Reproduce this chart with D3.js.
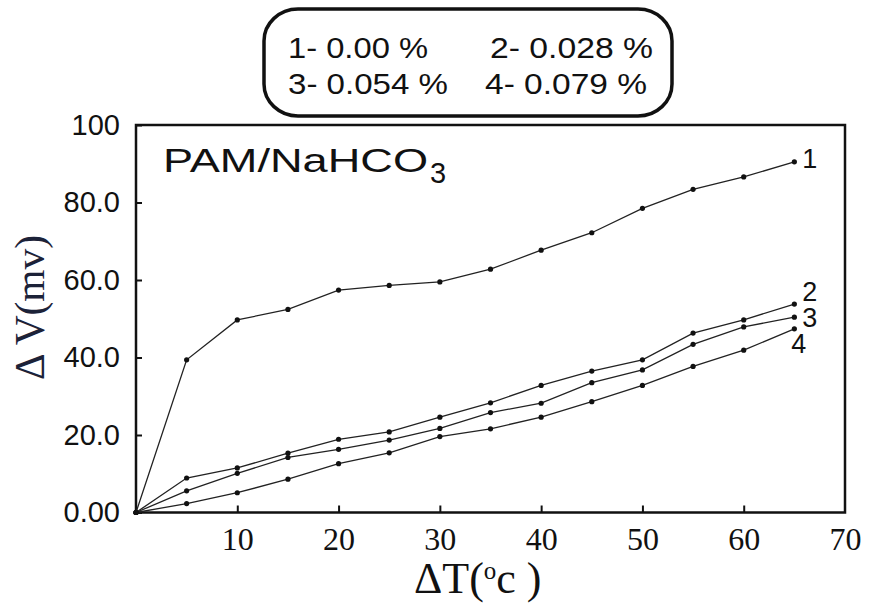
<!DOCTYPE html>
<html>
<head>
<meta charset="utf-8">
<script src="https://cdn.jsdelivr.net/npm/d3@7"></script>
<style>
  body { margin: 0; background: #fff; }
  svg { display: block; }
</style>
</head>
<body>
<div id="chart"></div>
<script>
/////////////////////////////////////////////////////
///////////////////// Data //////////////////////////
/////////////////////////////////////////////////////

// Temperature difference (x axis)
const deltaT = [0, 5, 10, 15, 20, 25, 30, 35, 40, 45, 50, 55, 60, 65];

// Voltage difference (mV) for each concentration
const curve1 = [0, 39.4, 49.7, 52.4, 57.4, 58.6, 59.5, 62.8, 67.7, 72.2, 78.5, 83.4, 86.6, 90.5];
const curve2 = [0, 8.9, 11.5, 15.3, 18.9, 20.8, 24.6, 28.3, 32.8, 36.5, 39.4, 46.3, 49.7, 53.8];
const curve3 = [0, 5.6, 10.1, 14.2, 16.3, 18.7, 21.7, 25.8, 28.2, 33.5, 36.8, 43.4, 47.9, 50.4];
const curve4 = [0, 2.3, 5.1, 8.6, 12.6, 15.4, 19.6, 21.6, 24.6, 28.6, 32.8, 37.7, 41.9, 47.4];

const curveNames  = ["1", "2", "3", "4"];
const legendTexts = ["1- 0.00 %", "2- 0.028 %", "3- 0.054 %", "4- 0.079 %"];

const xTicks      = [10, 20, 30, 40, 50, 60, 70];
const yTicks      = [0, 20, 40, 60, 80, 100];
const yTickLabels = ["0.00", "20.0", "40.0", "60.0", "80.0", "100"];

/////////////////////////////////////////////////////
///////////////////// Layout ////////////////////////
/////////////////////////////////////////////////////

const width  = 869;
const height = 603;

const plot = { left: 136, right: 845, top: 125, bottom: 512.5 };

const sans  = "'Liberation Sans', Arial, sans-serif";
const serif = "'Liberation Serif', 'Times New Roman', serif";
const ink   = "#111";

const svg = d3.select("#chart")
  .append("svg")
  .attr("width", width)
  .attr("height", height);

const x = d3.scaleLinear().domain([0, 70]).range([plot.left, plot.right]);
const y = d3.scaleLinear().domain([0, 100]).range([plot.bottom, plot.top]);

/////////////////////////////////////////////////////
///////////////////// Axes //////////////////////////
/////////////////////////////////////////////////////

// y axis: ticks point into the plot
const yAxis = svg.append("g")
  .attr("transform", `translate(${plot.left},0)`)
  .call(d3.axisLeft(y)
    .tickValues(yTicks)
    .tickFormat((d, i) => yTickLabels[i])
    .tickSizeInner(-6)
    .tickSizeOuter(0)
    .tickPadding(16));

yAxis.select(".domain").remove();
yAxis.selectAll(".tick line").attr("stroke", ink).attr("stroke-width", 2);
yAxis.selectAll(".tick text")
  .attr("fill", ink)
  .style("font-family", sans)
  .style("font-size", "29px");

// x axis
const xAxis = svg.append("g")
  .attr("transform", `translate(0,${plot.bottom})`)
  .call(d3.axisBottom(x)
    .tickValues(xTicks)
    .tickFormat(d3.format("d"))
    .tickSizeInner(-7)
    .tickSizeOuter(0)
    .tickPadding(15));

xAxis.select(".domain").remove();
xAxis.selectAll(".tick line").attr("stroke", ink).attr("stroke-width", 2);
xAxis.selectAll(".tick").filter(d => d === 70).select("line").remove();
xAxis.selectAll(".tick text")
  .attr("fill", ink)
  .style("font-family", serif)
  .style("font-size", "32px");

// frame around the plot
svg.append("rect")
  .attr("x", plot.left)
  .attr("y", plot.top)
  .attr("width", plot.right - plot.left)
  .attr("height", plot.bottom - plot.top)
  .attr("fill", "none")
  .attr("stroke", ink)
  .attr("stroke-width", 2.5);

/////////////////////////////////////////////////////
///////////////////// Curves ////////////////////////
/////////////////////////////////////////////////////

const series = [curve1, curve2, curve3, curve4].map((vals, i) => ({
  name: curveNames[i],
  points: vals.map((v, j) => ({ t: deltaT[j], v: v }))
}));

const line = d3.line().x(d => x(d.t)).y(d => y(d.v));

const curves = svg.append("g").attr("class", "curves");

curves.selectAll("path")
  .data(series)
  .enter().append("path")
  .attr("d", d => line(d.points))
  .attr("fill", "none")
  .attr("stroke", "#222")
  .attr("stroke-width", 1.3);

curves.selectAll("g.dots")
  .data(series)
  .enter().append("g")
  .attr("class", "dots")
  .selectAll("circle")
  .data(d => d.points)
  .enter().append("circle")
  .attr("cx", d => x(d.t))
  .attr("cy", d => y(d.v))
  .attr("r", 2.6)
  .attr("fill", "#111");

// number at the end of each curve
const endOffsets = [[8, 6], [8, -3], [8, 10], [-3, 24]];

curves.selectAll("text")
  .data(series)
  .enter().append("text")
  .attr("x", (d, i) => x(d.points[d.points.length - 1].t) + endOffsets[i][0])
  .attr("y", (d, i) => y(d.points[d.points.length - 1].v) + endOffsets[i][1])
  .attr("fill", ink)
  .style("font-family", sans)
  .style("font-size", "27px")
  .text(d => d.name);

/////////////////////////////////////////////////////
///////////////////// Titles ////////////////////////
/////////////////////////////////////////////////////

// PAM/NaHCO3 inside the plot
svg.append("text")
  .attr("x", 163)
  .attr("y", 172)
  .attr("textLength", 265)
  .attr("lengthAdjust", "spacingAndGlyphs")
  .attr("fill", ink)
  .style("font-family", sans)
  .style("font-size", "33px")
  .text("PAM/NaHCO");

svg.append("text")
  .attr("x", 430)
  .attr("y", 183)
  .attr("fill", ink)
  .style("font-family", sans)
  .style("font-size", "29px")
  .text("3");

// x axis title
const xTitle = svg.append("text")
  .attr("x", 414)
  .attr("y", 593)
  .attr("fill", ink)
  .style("font-family", serif)
  .style("font-size", "44px");
xTitle.append("tspan").text("ΔT(");
xTitle.append("tspan").attr("dy", -14).style("font-size", "25px").text("o");
xTitle.append("tspan").attr("dy", 14).text("c )");

// y axis title
svg.append("text")
  .attr("transform", "translate(44,380) rotate(-90)")
  .attr("textLength", 145)
  .attr("lengthAdjust", "spacingAndGlyphs")
  .attr("fill", "#1c2238")
  .style("font-family", serif)
  .style("font-size", "42px")
  .text("Δ V(mv)");

/////////////////////////////////////////////////////
///////////////////// Legend ////////////////////////
/////////////////////////////////////////////////////

svg.append("rect")
  .attr("x", 264)
  .attr("y", 9)
  .attr("width", 408)
  .attr("height", 107)
  .attr("rx", 34)
  .attr("ry", 32)
  .attr("fill", "none")
  .attr("stroke", ink)
  .attr("stroke-width", 3.5);

const legendPos = [[288, 58, 140], [490, 58, 163], [288, 94, 160], [485, 94, 162]];

svg.append("g").selectAll("text")
  .data(legendTexts)
  .enter().append("text")
  .attr("x", (d, i) => legendPos[i][0])
  .attr("y", (d, i) => legendPos[i][1])
  .attr("textLength", (d, i) => legendPos[i][2])
  .attr("lengthAdjust", "spacingAndGlyphs")
  .attr("fill", ink)
  .style("font-family", sans)
  .style("font-size", "29px")
  .text(d => d);
</script>
</body>
</html>
